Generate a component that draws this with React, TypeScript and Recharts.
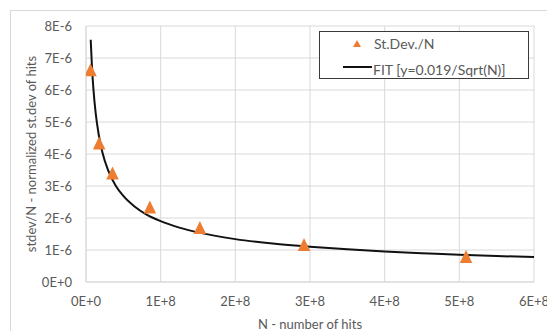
import React from 'react';
import { ComposedChart, Line, Scatter, XAxis, YAxis, CartesianGrid } from 'recharts';

const hitsN = [6.0e6, 1.76e7, 3.55e7, 8.55e7, 1.525e8, 2.92e8, 5.09e8];
const stdevN = [6.63e-6, 4.34e-6, 3.41e-6, 2.34e-6, 1.70e-6, 1.17e-6, 0.80e-6];

const fitN = [6.3e6, 8e6, 1e7, 1.3e7, 1.7e7, 2.2e7, 3e7, 4e7, 5e7, 6.5e7, 8e7, 1e8, 1.25e8, 1.5e8, 2e8, 2.5e8, 3e8, 3.5e8, 4e8, 4.5e8, 5e8, 5.5e8, 6e8];
const fitY = [7.57e-6, 6.72e-6, 6.01e-6, 5.27e-6, 4.61e-6, 4.05e-6, 3.47e-6, 3.00e-6, 2.69e-6, 2.36e-6, 2.12e-6, 1.90e-6, 1.70e-6, 1.55e-6, 1.34e-6, 1.20e-6, 1.10e-6, 1.02e-6, 0.95e-6, 0.90e-6, 0.85e-6, 0.81e-6, 0.78e-6];

const xTicks = [0, 1e8, 2e8, 3e8, 4e8, 5e8, 6e8];
const xTickLabels = ['0E+0', '1E+8', '2E+8', '3E+8', '4E+8', '5E+8', '6E+8'];
const yTicks = [0, 1e-6, 2e-6, 3e-6, 4e-6, 5e-6, 6e-6, 7e-6, 8e-6];
const yTickLabels = ['0E+0', '1E-6', '2E-6', '3E-6', '4E-6', '5E-6', '6E-6', '7E-6', '8E-6'];

const seriesName = 'St.Dev./N';
const fitName = 'FIT [y=0.019/Sqrt(N)]';
const xTitle = 'N - number of hits';
const yTitle = 'stdev/N - normalized st.dev of hits';

const scatterData = hitsN.map((n, i) => ({ n, v: stdevN[i] }));
const fitData = fitN.map((n, i) => ({ n, v: fitY[i] }));

const FONT = 'Lato, "Open Sans", sans-serif';
const TXT = '#595959';
const ORANGE = '#ED7D31';

const Tri = (props: any) => {
  const { cx, cy } = props;
  if (cx == null || cy == null) return null;
  const w = 12.5, h = 13;
  return <polygon points={`${cx},${cy - h / 2} ${cx + w / 2},${cy + h / 2} ${cx - w / 2},${cy + h / 2}`} fill={ORANGE} />;
};

const LegendBox = () => (
  <div style={{ position: 'absolute', left: 319, top: 31, width: 208, height: 46, border: '1px solid #3a3a3a', background: '#fff', fontFamily: FONT, fontSize: 14, lineHeight: '17px', color: TXT }}>
    <svg width={16} height={12} style={{ position: 'absolute', left: 29, top: 7 }}>
      <polygon points="8,1 12,8 4,8" fill={ORANGE} />
    </svg>
    <div style={{ position: 'absolute', left: 54, top: 3, whiteSpace: 'nowrap' }}>{seriesName}</div>
    <div style={{ position: 'absolute', left: 23, top: 34, width: 29, height: 2, background: '#111' }} />
    <div style={{ position: 'absolute', left: 53, top: 29, whiteSpace: 'nowrap' }}>{fitName}</div>
  </div>
);

export default function App() {
  return (
    <div style={{ position: 'absolute', left: 0, top: 0, width: 547, height: 331, background: '#fff', overflow: 'hidden' }}>
      <div style={{ position: 'absolute', left: 10, top: 10, width: 600, height: 400, border: '1px solid #d9d9d9' }} />
      <div style={{ position: 'absolute', left: 0, top: 0 }}>
        <ComposedChart width={547} height={331} margin={{ top: 26, right: 13, bottom: 0, left: 10 }} style={{ fontFamily: FONT }}>
          <CartesianGrid stroke="#d9d9d9" strokeWidth={1} />
          <XAxis
            dataKey="n"
            type="number"
            domain={[0, 6e8]}
            ticks={xTicks}
            tickFormatter={(v: number) => xTickLabels[xTicks.indexOf(v)] ?? ''}
            tickLine={false}
            tickSize={0}
            tickMargin={15}
            axisLine={{ stroke: '#d9d9d9' }}
            tick={{ fill: TXT, fontSize: 13 }}
            height={49}
            interval={0}
            allowDataOverflow
            label={{ content: () => <text x={310} y={324} textAnchor="middle" dominantBaseline="central" fill={TXT} fontSize={13} fontFamily={FONT}>{xTitle}</text> }}
          />
          <YAxis
            dataKey="v"
            type="number"
            domain={[0, 8e-6]}
            ticks={yTicks}
            tickFormatter={(v: number) => { const i = yTicks.findIndex((t) => Math.abs(t - v) < 1e-12); return i >= 0 ? yTickLabels[i] : ''; }}
            tickLine={false}
            tickSize={0}
            tickMargin={14}
            axisLine={{ stroke: '#d9d9d9' }}
            tick={{ fill: TXT, fontSize: 13 }}
            width={76}
            interval={0}
            allowDataOverflow
            label={{ content: () => <text x={31} y={154} transform="rotate(-90 31 154)" textAnchor="middle" dominantBaseline="central" fill={TXT} fontSize={13} fontFamily={FONT}>{yTitle}</text> }}
          />
          <Line data={fitData} dataKey="v" type="monotone" stroke="#111" strokeWidth={2} dot={false} isAnimationActive={false} name={fitName} />
          <Scatter data={scatterData} dataKey="v" fill={ORANGE} shape={Tri} isAnimationActive={false} name={seriesName} />
        </ComposedChart>
      </div>
      <LegendBox />
    </div>
  );
}
